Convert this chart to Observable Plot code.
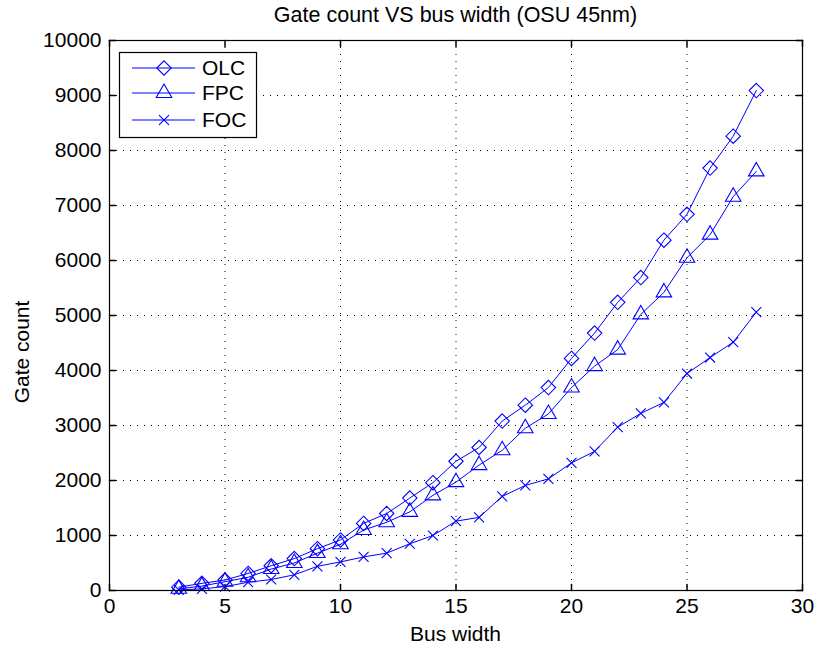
<!DOCTYPE html>
<html><head><meta charset="utf-8">
<script src="https://cdn.jsdelivr.net/npm/d3@7"></script>
<script src="https://cdn.jsdelivr.net/npm/@observablehq/plot@0.6"></script>
<style>
body{margin:0;background:#fff;font-family:"Liberation Sans",Arial,sans-serif;}
#wrap{position:relative;width:824px;height:649px;}
#title{position:absolute;left:109px;top:0;height:30px;line-height:30px;width:693px;text-align:center;font-size:21.5px;color:#000;z-index:2;}
#chart svg{display:block;}
</style></head><body>
<div id="wrap">
<div id="title">Gate count VS bus width (OSU 45nm)</div>
<div id="chart"></div>
</div>
<script>
const busWidth = [3,4,5,6,7,8,9,10,11,12,13,14,15,16,17,18,19,20,21,22,23,24,25,26,27,28];
const olc = [60,130,190,310,450,580,760,920,1220,1400,1680,1960,2350,2600,3080,3370,3690,4220,4680,5240,5690,6370,6840,7680,8260,9090];
const fpc = [30,80,160,240,390,500,680,840,1100,1240,1430,1730,1970,2280,2550,2950,3210,3690,4080,4380,5020,5420,6050,6470,7160,7620];
const foc = [10,30,70,150,200,285,440,520,610,680,850,1000,1260,1330,1710,1910,2030,2320,2530,2970,3220,3420,3945,4236,4515,5060];
const seriesNames = ["OLC","FPC","FOC"];
const xTicks = [0,5,10,15,20,25,30];
const yTicks = [0,1000,2000,3000,4000,5000,6000,7000,8000,9000,10000];
const xLabel = "Bus width";
const yLabel = "Gate count";

const blue = "#0000ff";
const fontSize = 21;
const symbols = {OLC: "diamond2", FPC: "triangle2", FOC: "times"};
const radii = {OLC: 6.5, FPC: 7.4, FOC: 4.6};
const d3sym = {OLC: d3.symbolDiamond2, FPC: d3.symbolTriangle2, FOC: d3.symbolTimes};
const values = {OLC: olc, FPC: fpc, FOC: foc};

const data = seriesNames.flatMap(s => busWidth.map((b, i) => ({series: s, x: b, y: values[s][i]})));

const tickShape = {draw(context, l) { context.moveTo(0, 0); context.lineTo(0, -l); }};
const tickLen = 6;

const marks = [
  Plot.gridX({ticks: xTicks.slice(1, -1), stroke: "#000", strokeOpacity: 1, strokeDasharray: "1,6", strokeWidth: 1}),
  Plot.gridY({ticks: yTicks.slice(1, -1), stroke: "#000", strokeOpacity: 1, strokeDasharray: "1,6", strokeWidth: 1}),
  Plot.vector(xTicks, {x: d => d, y: () => 0, length: tickLen, rotate: 0, anchor: "start", shape: tickShape, stroke: "#000"}),
  Plot.vector(xTicks, {x: d => d, y: () => 10000, length: tickLen, rotate: 180, anchor: "start", shape: tickShape, stroke: "#000"}),
  Plot.vector(yTicks, {x: () => 0, y: d => d, length: tickLen, rotate: 90, anchor: "start", shape: tickShape, stroke: "#000"}),
  Plot.vector(yTicks, {x: () => 30, y: d => d, length: tickLen, rotate: 270, anchor: "start", shape: tickShape, stroke: "#000"}),
  Plot.axisX({ticks: xTicks, tickSize: 0, tickPadding: 8, label: null, fontSize, tickFormat: d3.format("d")}),
  Plot.axisY({ticks: yTicks, tickSize: 0, tickPadding: 8, label: null, fontSize, tickFormat: d3.format("d")}),
];
for (const s of seriesNames) {
  const rows = data.filter(d => d.series === s);
  marks.push(Plot.line(rows, {x: "x", y: "y", stroke: blue, strokeWidth: 1}));
  marks.push(Plot.dot(rows, {x: "x", y: "y", symbol: symbols[s], r: radii[s], stroke: blue, fill: "none", strokeWidth: 1.1}));
}
marks.push(Plot.frame({stroke: "#000", strokeWidth: 1.2}));

const chart = Plot.plot({
  width: 824, height: 649,
  marginLeft: 109, marginRight: 22, marginTop: 40, marginBottom: 59,
  style: {fontSize: fontSize + "px", fontFamily: "'Liberation Sans', Arial, sans-serif", background: "#fff", color: "#000"},
  x: {domain: [0, 30]},
  y: {domain: [0, 10000]},
  marks
});
document.getElementById("chart").appendChild(chart);

const svg = d3.select(chart);
// Axis labels
svg.append("text").attr("x", 455.5).attr("y", 634).attr("dy", "0.35em").attr("text-anchor", "middle")
  .attr("font-size", fontSize).attr("fill", "#000").text(xLabel);
svg.append("text").attr("transform", "translate(22,352) rotate(-90)").attr("dy", "0.35em").attr("text-anchor", "middle")
  .attr("font-size", fontSize).attr("fill", "#000").text(yLabel);

// Legend
const lg = svg.append("g").attr("class", "legend");
lg.append("rect").attr("x", 119.5).attr("y", 52.5).attr("width", 137).attr("height", 85)
  .attr("fill", "#fff").attr("stroke", "#000").attr("stroke-width", 1.2);
const rowY = [68, 93, 120];
seriesNames.forEach((s, i) => {
  const y = rowY[i];
  lg.append("line").attr("x1", 132).attr("x2", 195).attr("y1", y).attr("y2", y).attr("stroke", blue).attr("stroke-width", 1);
  lg.append("path").attr("transform", `translate(164,${y})`)
    .attr("d", d3.symbol(d3sym[s], Math.PI * radii[s] * radii[s])())
    .attr("fill", "none").attr("stroke", blue).attr("stroke-width", 1.1);
  lg.append("text").attr("x", 202).attr("y", y).attr("dy", "0.35em").attr("text-anchor", "start")
    .attr("font-size", fontSize).attr("fill", "#000").text(s);
});
</script>
</body></html>
